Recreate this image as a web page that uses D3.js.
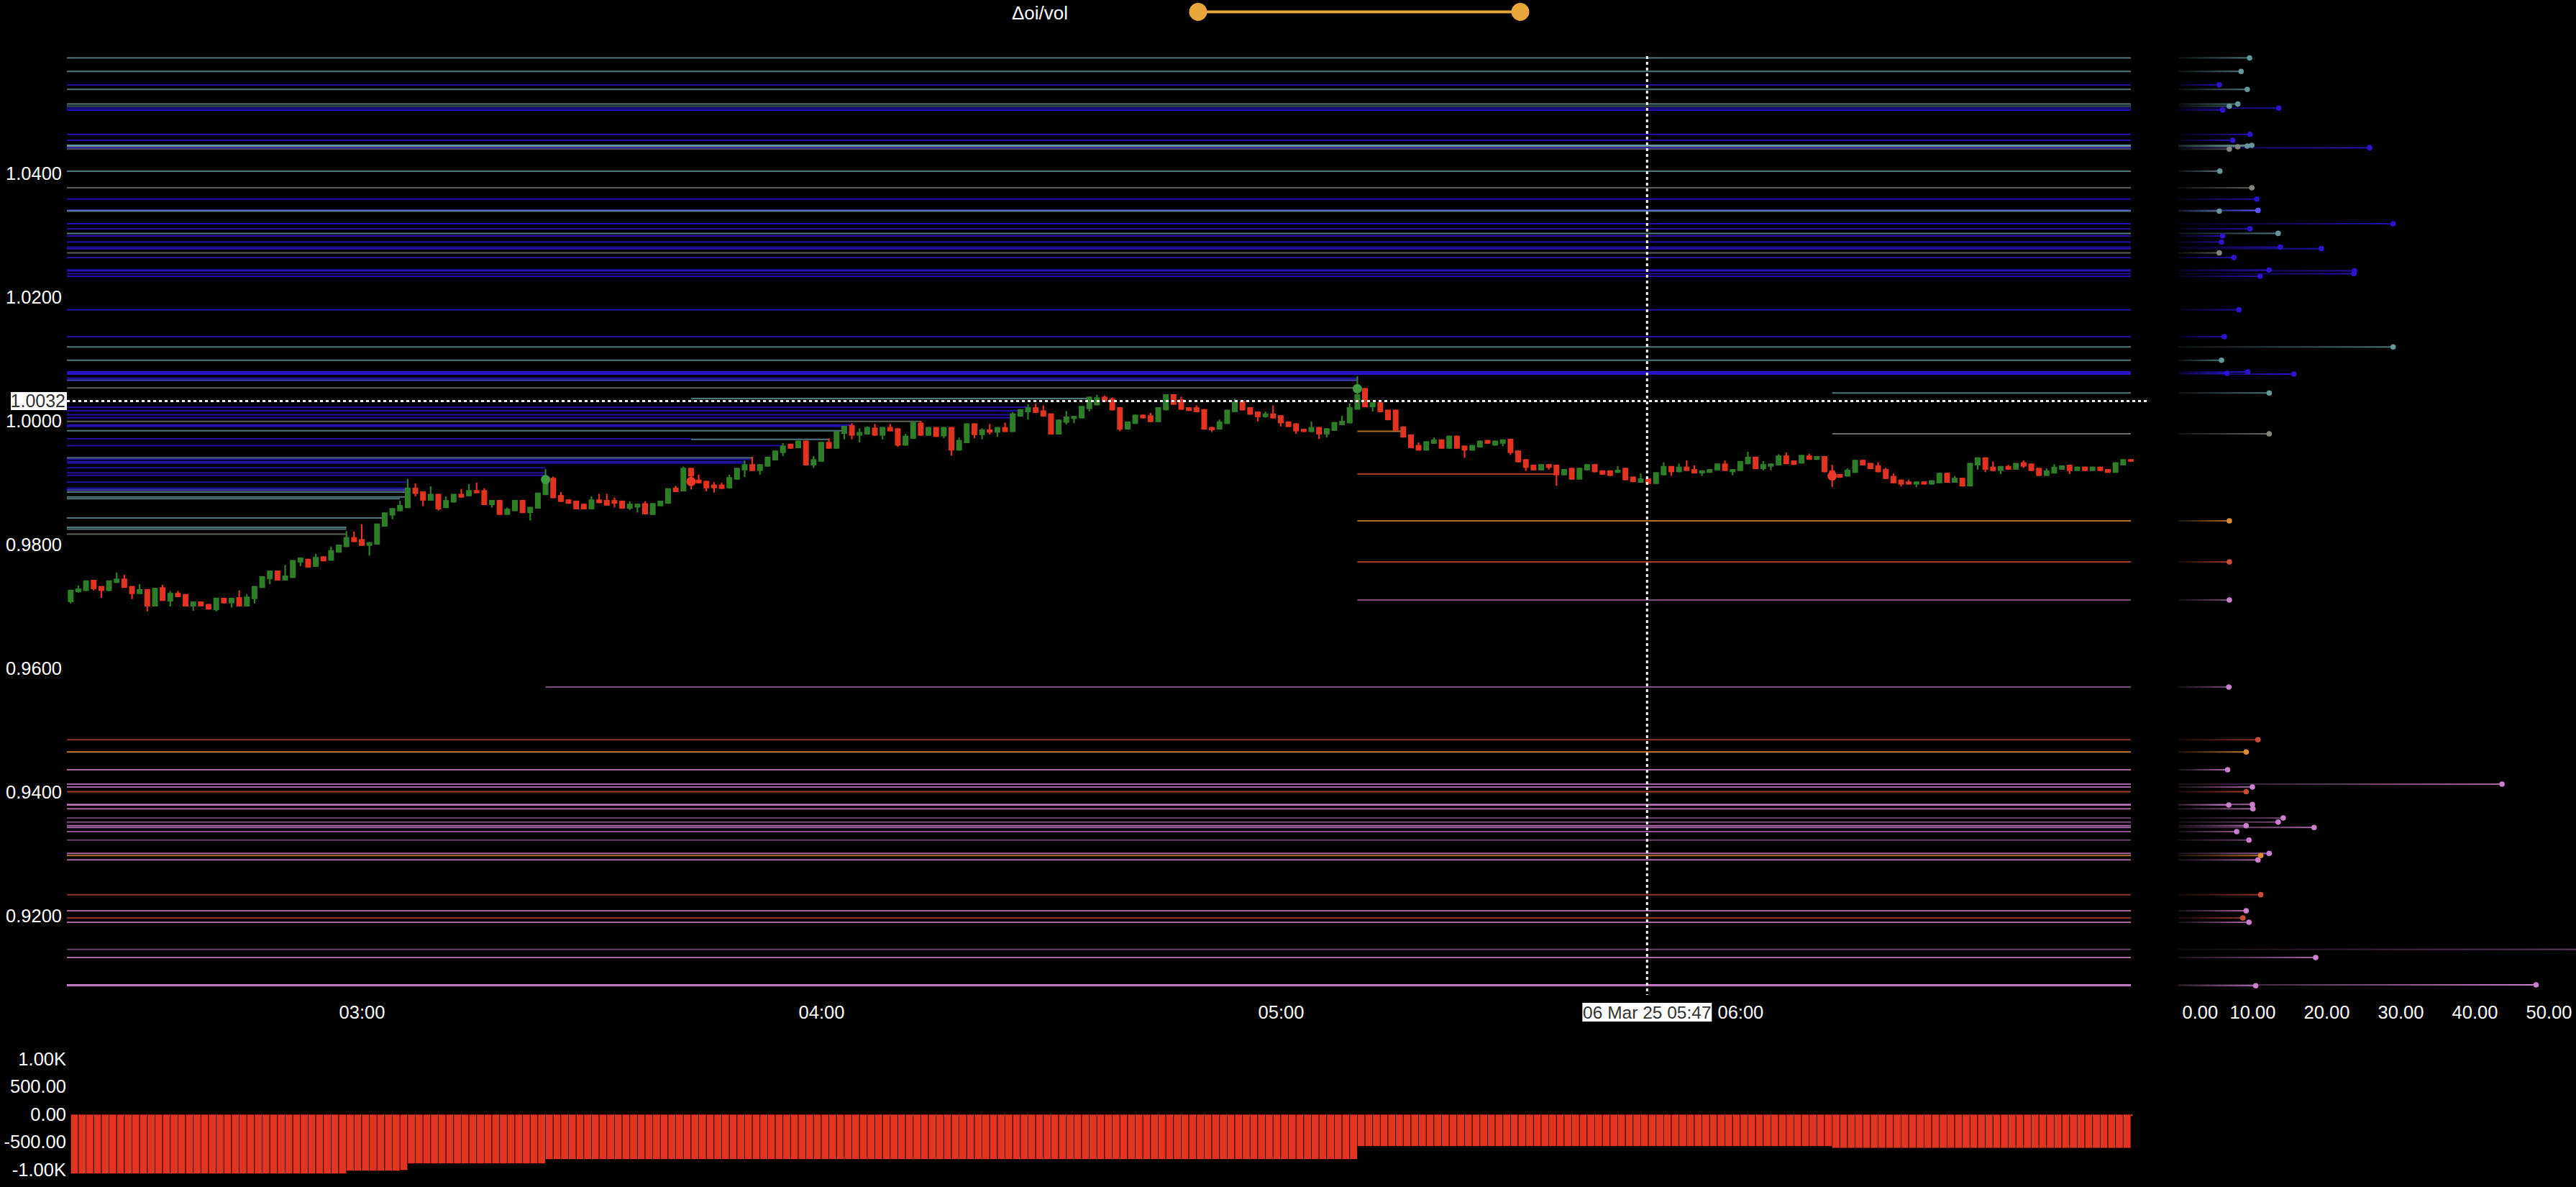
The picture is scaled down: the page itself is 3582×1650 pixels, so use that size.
<!DOCTYPE html>
<html><head><meta charset="utf-8">
<script src="https://cdn.jsdelivr.net/npm/d3@7"></script>
<style>html,body{margin:0;padding:0;background:#000;overflow:hidden}svg{display:block}</style>
</head><body>
<svg id="chart" width="3582" height="1650"></svg>
<script>
// ---------------- DATA ----------------
const DAY = "2025-03-06";
const firstCandle = "02:22";
// 1-minute candles, prices in 1e-4 units
const candleOpen = [
9707,9723,9725,9743,9733,9725,9738,9745,9733,9720,
9728,9700,9731,9708,9722,9720,9700,9708,9704,9694,
9714,9705,9715,9700,9712,9730,9744,9758,9742,9746,
9771,9777,9764,9781,9774,9787,9796,9812,9809,9798,
9800,9829,9847,9854,9859,9892,9886,9871,9882,9859,
9868,9882,9878,9888,9888,9864,9872,9848,9854,9872,
9851,9858,9880,9908,9880,9873,9871,9866,9857,9873,
9872,9872,9871,9858,9860,9867,9848,9862,9866,9892,
9886,9924,9905,9903,9897,9897,9891,9905,9920,9930,
9919,9926,9936,9948,9963,9956,9968,9928,9934,9966,
9955,9979,9993,9976,9978,9989,9976,9990,9988,9960,
9971,9997,9976,9990,9975,9990,9952,9964,9996,9977,
9986,9981,9990,9982,10007,10014,10022,10017,10012,9978,
9997,10003,10004,10019,10025,10039,10036,10022,9986,9995,
10010,10009,9998,10017,10043,10035,10022,10022,10019,9990,
9986,9995,10014,10032,10022,10015,10006,10012,10009,9999,
9996,9987,9982,9990,9978,9984,9993,9996,10018,10053,
10022,10030,10018,10018,9991,9978,9961,9952,9963,9970,
9955,9976,9960,9952,9957,9969,9960,9963,9971,9952,
9938,9929,9920,9930,9929,9912,9924,9905,9920,9930,
9920,9920,9916,9924,9910,9900,9907,9898,9912,9927,
9917,9926,9922,9915,9916,9920,9931,9917,9919,9930,
9942,9922,9926,9928,9944,9936,9931,9944,9937,9943,
9920,9914,9910,9916,9937,9932,9928,9922,9911,9905,
9902,9897,9902,9897,9899,9916,9900,9908,9894,9928,
9941,9926,9919,9927,9921,9933,9931,9924,9911,9915,
9921,9929,9919,9926,9919,9926,9922,9916,9928,9938];
const candleHigh = [
9727,9734,9742,9743,9733,9742,9755,9751,9733,9736,
9728,9730,9735,9725,9725,9720,9708,9708,9704,9714,
9714,9714,9726,9720,9733,9749,9758,9758,9767,9775,
9779,9777,9785,9781,9797,9800,9822,9821,9833,9804,
9834,9852,9859,9871,9906,9899,9886,9894,9882,9878,
9882,9890,9898,9900,9891,9872,9872,9860,9872,9872,
9861,9884,9922,9910,9885,9873,9871,9866,9878,9882,
9882,9876,9871,9870,9866,9870,9867,9871,9891,9895,
9926,9924,9913,9903,9901,9900,9913,9924,9936,9942,
9930,9942,9952,9964,9963,9968,9968,9943,9966,9972,
9983,9992,9996,9988,9991,9995,9990,9995,9988,9979,
9998,10000,9990,9990,9990,9990,9973,9996,9996,9988,
9995,9990,9997,10014,10019,10027,10028,10025,10012,10002,
10016,10008,10024,10039,10042,10041,10038,10022,9999,10010,
10010,10013,10022,10043,10043,10039,10022,10025,10019,9990,
10002,10018,10036,10032,10022,10015,10015,10025,10009,9999,
9996,9987,9999,9990,9988,9998,10008,10028,10072,10053,
10030,10030,10018,10018,9991,9978,9965,9967,9973,9970,
9976,9976,9960,9961,9968,9969,9968,9970,9971,9952,
9938,9929,9930,9930,9929,9922,9924,9924,9930,9930,
9920,9920,9927,9924,9910,9915,9907,9917,9933,9927,
9931,9936,9928,9920,9922,9931,9936,9922,9935,9950,
9942,9935,9931,9946,9949,9936,9945,9947,9943,9943,
9929,9914,9923,9937,9937,9932,9933,9924,9915,9905,
9905,9902,9902,9904,9916,9916,9911,9908,9932,9941,
9941,9934,9927,9929,9932,9936,9931,9924,9923,9930,
9928,9929,9926,9926,9926,9926,9922,9933,9938,9938];
const candleLow = [
9705,9722,9725,9726,9714,9725,9738,9730,9712,9720,
9692,9700,9709,9700,9715,9700,9693,9700,9695,9692,
9705,9698,9700,9700,9705,9730,9736,9742,9742,9746,
9765,9763,9764,9773,9774,9787,9796,9804,9798,9782,
9800,9829,9841,9854,9859,9878,9862,9871,9855,9859,
9868,9876,9878,9883,9864,9860,9848,9848,9854,9851,
9839,9858,9880,9875,9869,9866,9857,9857,9857,9867,
9863,9860,9858,9856,9852,9849,9848,9862,9866,9885,
9886,9889,9899,9886,9884,9890,9891,9905,9909,9919,
9913,9926,9936,9943,9955,9956,9928,9924,9934,9955,
9955,9970,9970,9965,9978,9976,9970,9983,9958,9960,
9971,9976,9976,9974,9972,9944,9952,9964,9972,9970,
9978,9974,9982,9982,10007,10002,10013,10007,9978,9978,
9994,9996,10004,10015,10025,10031,10017,9983,9986,9995,
10004,9998,9998,10017,10026,10018,10016,10014,9986,9982,
9986,9995,10014,10017,10010,9999,10005,10004,9991,9990,
9979,9982,9982,9971,9973,9984,9993,9996,10018,10022,
10015,10014,10001,9984,9973,9956,9952,9952,9963,9955,
9955,9955,9940,9952,9957,9963,9960,9959,9945,9933,
9919,9920,9920,9921,9895,9912,9905,9905,9920,9917,
9913,9911,9916,9904,9901,9900,9898,9898,9912,9911,
9917,9919,9915,9911,9916,9920,9919,9912,9919,9930,
9922,9920,9920,9928,9930,9929,9931,9937,9937,9917,
9893,9908,9910,9916,9928,9922,9917,9906,9899,9894,
9897,9893,9897,9897,9899,9900,9900,9894,9894,9921,
9917,9919,9914,9921,9921,9924,9919,9911,9911,9915,
9921,9914,9919,9919,9919,9919,9916,9916,9928,9934];
const candleClose = [
9727,9729,9742,9728,9725,9742,9745,9730,9720,9728,
9700,9730,9709,9722,9715,9700,9708,9700,9695,9714,
9705,9714,9700,9716,9733,9749,9758,9742,9750,9775,
9779,9763,9780,9773,9791,9800,9812,9804,9798,9804,
9834,9852,9859,9864,9892,9882,9871,9882,9857,9872,
9882,9876,9888,9883,9864,9872,9848,9858,9872,9851,
9861,9884,9899,9875,9869,9866,9857,9857,9873,9867,
9863,9866,9858,9866,9866,9849,9867,9871,9891,9885,
9924,9910,9899,9891,9891,9890,9909,9924,9930,9919,
9930,9942,9952,9960,9955,9968,9928,9938,9966,9955,
9983,9992,9976,9982,9990,9976,9990,9983,9960,9976,
9998,9976,9990,9974,9990,9952,9969,9996,9977,9986,
9981,9990,9982,10012,10019,10022,10013,10007,9978,10002,
10007,10008,10024,10039,10038,10031,10017,9986,9999,10010,
10004,9998,10022,10043,10026,10018,10016,10014,9986,9985,
9999,10018,10031,10017,10010,10006,10012,10004,9996,9990,
9983,9982,9990,9978,9988,9998,10000,10022,10043,10022,
10030,10014,10001,9984,9973,9956,9952,9967,9970,9955,
9976,9955,9952,9961,9968,9963,9968,9970,9948,9933,
9924,9920,9930,9924,9912,9922,9905,9924,9930,9917,
9913,9911,9921,9904,9901,9907,9898,9917,9927,9917,
9926,9919,9915,9920,9922,9931,9919,9922,9935,9942,
9922,9930,9931,9944,9930,9929,9945,9937,9943,9917,
9905,9908,9921,9937,9928,9922,9917,9906,9899,9897,
9897,9902,9897,9904,9916,9900,9908,9894,9932,9941,
9921,9919,9927,9921,9932,9926,9919,9911,9920,9926,
9928,9919,9926,9919,9926,9919,9916,9933,9938,9934];

// Markers on candles
const markerTime  = ["03:24", "03:43", "05:10", "06:12"];
const markerPrice = [0.9905, 0.9902, 1.0052, 0.9911];
const markerSide  = ["up", "down", "up", "down"];

// Price levels (horizontal lines) and their Δoi/vol ratio (right panel)
const levelPrice = [
1.05867,1.05648,1.05431,1.05357,1.05121,1.05087,1.05055,1.05024,1.04630,1.04535,
1.04454,1.04442,1.04430,1.04414,1.04392,1.04036,1.03767,1.03584,1.03401,1.03390,
1.03186,1.03105,1.03030,1.02988,1.02890,1.02807,1.02783,1.02715,1.02640,1.02438,
1.02425,1.02378,1.02337,1.01795,1.01360,1.01194,1.00979,1.00790,1.00767,1.00756,
1.00690,1.00656,1.00531,1.00451,0.99790,1.00360,1.00220,1.00160,1.00100,1.00050,
0.99990,0.99930,0.99910,0.99840,0.99710,0.99700,0.99600,0.99400,0.99380,0.99340,
0.99320,0.99240,0.99160,0.99120,0.99010,0.98910,0.98880,0.98850,0.98770,0.98740,
0.98430,0.98280,0.98250,0.98170,0.99140,0.99830,0.98384,0.97720,0.97105,0.95698,
0.94845,0.94648,0.94360,0.94128,0.94081,0.94006,0.93790,0.93800,0.93729,0.93581,
0.93515,0.93457,0.93428,0.93360,0.93224,0.93008,0.92973,0.92903,0.92341,0.92081,
0.91965,0.91895,0.91457,0.91326,0.90884,0.90870];
const levelKind = [
"t","t","b","t","t","t","b","b","b","b",
"t","t","g","b","g","t","g","b","l","t",
"b","b","t","b","b","b","b","g","b","b",
"b","b","b","b","b","t","t","b","b","b",
"b","l","g","t","g","t","b","b","b","b",
"g","b","b","t","b","t","b","t","b","b",
"b","b","b","b","b","b","l","t","t","t",
"t","t","t","g","r","o","o","r","p","p",
"r","o","p","p","p","r","p","p","p","p",
"p","p","p","p","p","p","o","p","r","p",
"r","p","p","p","p","p"];
const levelFrom = [
"02:21","02:21","02:21","02:21","02:21","02:21","02:21","02:21","02:21","02:21",
"02:21","02:21","02:21","02:21","02:21","02:21","02:21","02:21","02:21","02:21",
"02:21","02:21","02:21","02:21","02:21","02:21","02:21","02:21","02:21","02:21",
"02:21","02:21","02:21","02:21","02:21","02:21","02:21","02:21","02:21","02:21",
"02:21","02:21","02:21","06:12","06:12","03:43","02:21","02:21","02:21","02:21",
"02:21","02:21","02:21","02:21","02:21","03:43","02:21","02:21","02:21","02:21",
"02:21","02:21","02:21","02:21","02:21","02:21","02:21","02:21","02:21","02:21",
"02:21","02:21","02:21","02:21","05:10","05:10","05:10","05:10","05:10","03:24",
"02:21","02:21","02:21","02:21","02:21","02:21","02:21","02:21","02:21","02:21",
"02:21","02:21","02:21","02:21","02:21","02:21","02:21","02:21","02:21","02:21",
"02:21","02:21","02:21","02:21","02:21","02:21"];
const levelTo = [
"06:51","06:51","06:51","06:51","06:51","06:51","06:51","06:51","06:51","06:51",
"06:51","06:51","06:51","06:51","06:51","06:51","06:51","06:51","06:51","06:51",
"06:51","06:51","06:51","06:51","06:51","06:51","06:51","06:51","06:51","06:51",
"06:51","06:51","06:51","06:51","06:51","06:51","06:51","06:51","06:51","06:51",
"05:10","05:10","05:10","06:51","06:51","04:35","04:27","04:26","04:25","04:25",
"04:13","04:04","04:03","04:03","03:43","04:01","03:55","03:51","03:51","03:50",
"03:50","03:24","03:24","03:24","03:06","03:06","03:06","03:06","03:06","03:05",
"03:03","02:58","02:58","02:58","05:36","05:16","06:51","06:51","06:51","06:51",
"06:51","06:51","06:51","06:51","06:51","06:51","06:51","06:51","06:51","06:51",
"06:51","06:51","06:51","06:51","06:51","06:51","06:51","06:51","06:51","06:51",
"06:51","06:51","06:51","06:51","06:51","06:51"];
const levelWeight = [
0.8,0.8,0.8,0.8,0.8,0.6,0.8,0.9,0.8,0.8,
1.0,0.8,0.6,0.9,0.6,0.8,0.7,0.8,1.0,0.7,
0.8,0.8,0.8,0.8,0.8,0.8,0.8,0.7,0.8,0.8,
0.8,0.8,0.8,0.8,0.8,0.8,0.8,1.0,0.9,0.9,
0.9,0.8,0.7,0.8,0.8,0.8,0.8,0.8,0.8,0.8,
0.7,0.8,0.8,0.8,0.8,0.8,0.8,0.8,0.8,0.8,
0.8,0.8,0.8,0.8,0.8,0.8,0.8,0.8,0.8,0.8,
0.8,0.8,0.8,0.7,0.8,0.8,0.8,0.8,0.6,0.6,
0.7,0.9,0.8,0.8,0.8,0.8,0.8,0.8,0.8,0.5,
0.6,0.8,0.8,0.7,0.5,0.8,0.8,0.8,0.7,0.8,
0.7,0.8,0.5,0.8,1.0,0.8];
// Δoi/vol values; null = level already crossed (no bar)
const levelRatio = [
9.62,8.48,5.53,9.31,8.03,6.89,13.56,5.98,9.69,7.35,
9.92,9.31,8.03,25.82,6.89,5.60,9.92,10.60,10.75,5.53,
29.0,9.69,13.48,5.98,5.83,13.78,19.31,5.53,7.50,12.27,
23.78,23.70,11.06,8.18,6.21,29.0,5.83,9.39,6.59,15.60,
null,null,null,12.27,12.27,null,null,null,null,null,
null,null,null,null,null,null,null,null,null,null,
null,null,null,null,null,null,null,null,null,null,
null,null,null,null,null,null,6.89,6.89,6.89,6.82,
10.75,9.16,6.66,43.7,10.0,9.16,6.82,10.0,10.07,14.16,
13.48,9.16,18.33,7.88,9.54,12.27,11.13,10.75,11.13,9.16,
8.71,9.54,60,18.55,48.3,10.45];

// Δoi bars: step values starting at given minute
const oiChangeTime  = ["02:22","02:58","03:05","03:06","03:24","05:10","06:12","06:51"];
const oiChangeValue = [-1074, -1022, -1010, -888, -814, -576, -610, -30];

const priceTicks = [0.92, 0.94, 0.96, 0.98, 1.00, 1.02, 1.04];
const timeTicks  = ["03:00", "04:00", "05:00", "06:00"];
const ratioTicks = [0, 10, 20, 30, 40, 50];
const oiTicks    = [-1000, -500, 0, 500, 1000];
const cursorPrice = 1.0032;
const cursorTime  = "05:47:50";
const sliderLabel = "Δoi/vol";

// ---------------- RENDER ----------------
const parseT = s => new Date(`${DAY}T${s.length === 5 ? s + ":00" : s}`);
const t0 = parseT(firstCandle).getTime();
const candles = candleOpen.map((o, i) => ({
  t: new Date(t0 + i * 60000),
  o: o / 1e4, h: candleHigh[i] / 1e4, l: candleLow[i] / 1e4, c: candleClose[i] / 1e4
}));

const FONT = "'Liberation Sans', Arial, Helvetica, sans-serif";
const FS = 25.5;
const svg = d3.select("#chart").style("background", "#000").attr("font-family", FONT);
svg.append("rect").attr("width", 3582).attr("height", 1650).attr("fill", "#000");

const x = d3.scaleTime().domain([parseT("02:21:30"), parseT("06:51:00")]).range([93, 2963]);
const y = d3.scaleLinear().domain([0.908, 1.060]).range([1376.2, 69]);
const rx = d3.scaleLinear().domain([0, 50]).range([3029, 3544]);
const yb = d3.scaleLinear().domain([-1100, 1200]).range([1633.7, 1456.6]);

const kindColor = { b: "#2a14d0", l: "#5a5aff", t: "#64959a", g: "#80887c", p: "#cc7fcc", o: "#dc8c2c", r: "#cc4a38" };

const defs = svg.append("defs");
Object.entries(kindColor).forEach(([k, c]) => {
  const g = defs.append("linearGradient").attr("id", "grad-" + k).attr("x1", 0).attr("x2", 1).attr("y1", 0).attr("y2", 0);
  g.append("stop").attr("offset", 0).attr("stop-color", c).attr("stop-opacity", 0.15);
  g.append("stop").attr("offset", 1).attr("stop-color", c).attr("stop-opacity", 1);
});
defs.append("clipPath").attr("id", "panelClip").append("rect").attr("x", 3029).attr("y", 0).attr("width", 553).attr("height", 1390);

const levels = levelPrice.map((p, i) => ({ p, k: levelKind[i], f: levelFrom[i], to: levelTo[i], w: levelWeight[i], r: levelRatio[i] }));

// level lines in main chart
const [xmin, xmax] = x.range();
svg.append("g").selectAll("line").data(levels).join("line")
  .attr("x1", d => Math.max(xmin, x(parseT(d.f))))
  .attr("x2", d => Math.min(xmax, x(parseT(d.to))))
  .attr("y1", d => y(d.p)).attr("y2", d => y(d.p))
  .attr("stroke", d => kindColor[d.k]).attr("stroke-opacity", d => d.w)
  .attr("stroke-width", 2);

// candles
const UP = "#2e7d27", DN = "#e2331f";
const cg = svg.append("g");
cg.selectAll("line").data(candles).join("line")
  .attr("x1", d => x(d.t)).attr("x2", d => x(d.t))
  .attr("y1", d => y(d.h)).attr("y2", d => y(d.l))
  .attr("stroke", d => d.c >= d.o ? UP : DN).attr("stroke-width", 2.2);
cg.selectAll("rect").data(candles).join("rect")
  .attr("x", d => x(d.t) - 4).attr("width", 8)
  .attr("y", d => y(Math.max(d.o, d.c)))
  .attr("height", d => Math.max(2, Math.abs(y(d.o) - y(d.c))))
  .attr("fill", d => d.c >= d.o ? UP : DN);

// markers
svg.append("g").selectAll("circle").data(markerTime.map((t, i) => ({ t: parseT(t), p: markerPrice[i], s: markerSide[i] })))
  .join("circle").attr("cx", d => x(d.t)).attr("cy", d => y(d.p)).attr("r", 6.5)
  .attr("fill", d => d.s === "up" ? "#3f9a3f" : "#e8392a");

// y axis
const ya = svg.append("g").attr("transform", "translate(93,0)")
  .call(d3.axisLeft(y).tickValues(priceTicks).tickFormat(d3.format(".4f")).tickSize(0).tickPadding(7));
ya.select(".domain").remove();
ya.selectAll("text").attr("fill", "#fff").attr("font-size", FS).attr("font-family", FONT);

// x axis
const xa = svg.append("g").attr("transform", "translate(0,1394)")
  .call(d3.axisBottom(x).tickValues(timeTicks.map(parseT)).tickFormat(d3.timeFormat("%H:%M")).tickSize(0).tickPadding(4));
xa.select(".domain").remove();
xa.selectAll("text").attr("fill", "#fff").attr("font-size", FS).attr("font-family", FONT);

// right panel
const rp = svg.append("g").attr("clip-path", "url(#panelClip)");
const act = levels.filter(d => d.r != null);
rp.selectAll("rect").data(act).join("rect")
  .attr("x", rx(0)).attr("y", d => y(d.p) - 1).attr("height", 2)
  .attr("width", d => rx(d.r) - rx(0))
  .attr("fill", d => `url(#grad-${d.k})`).attr("opacity", d => d.w);
rp.selectAll("circle").data(act).join("circle")
  .attr("cx", d => rx(d.r)).attr("cy", d => y(d.p)).attr("r", 3.8)
  .attr("fill", d => kindColor[d.k]);
const ra = svg.append("g").attr("transform", "translate(0,1394)")
  .call(d3.axisBottom(rx).tickValues(ratioTicks).tickFormat(d3.format(".2f")).tickSize(0).tickPadding(4));
ra.select(".domain").remove();
ra.selectAll("text").attr("fill", "#fff").attr("font-size", FS).attr("font-family", FONT);
// first label kept inside the panel
ra.selectAll(".tick").filter(d => d === 0).select("text").attr("text-anchor", "start").attr("x", 5);

// crosshair
const cx = x(parseT(cursorTime));
svg.append("line").attr("x1", 93).attr("x2", 2985).attr("y1", y(cursorPrice)).attr("y2", y(cursorPrice))
  .attr("stroke", "#fff").attr("stroke-width", 3).attr("stroke-dasharray", "4,4");
svg.append("line").attr("x1", cx).attr("x2", cx).attr("y1", 78).attr("y2", 1383)
  .attr("stroke", "#fff").attr("stroke-width", 3).attr("stroke-dasharray", "4,4");
svg.append("rect").attr("x", 15).attr("y", y(cursorPrice) - 12.5).attr("width", 78).attr("height", 25).attr("fill", "#fff");
svg.append("text").attr("x", 91).attr("y", y(cursorPrice)).attr("dy", "0.35em").attr("text-anchor", "end")
  .attr("font-size", 25).attr("fill", "#333").text(d3.format(".4f")(cursorPrice));
svg.append("rect").attr("x", cx - 90).attr("y", 1394).attr("width", 180).attr("height", 26).attr("fill", "#fff");
svg.append("text").attr("x", cx).attr("y", 1407).attr("dy", "0.35em").attr("text-anchor", "middle")
  .attr("font-size", 24.5).attr("fill", "#333").text(d3.timeFormat("%d %b %y %H:%M")(parseT(cursorTime)));

// bottom Δoi bars (each bar spans from its candle to the next one)
const oiSteps = oiChangeTime.map((t, i) => ({ t: parseT(t), v: oiChangeValue[i] }));
const oiAt = t => { let v = oiSteps[0].v; for (const s of oiSteps) if (s.t <= t) v = s.v; return v; };
const bw = x(new Date(t0 + 60000)) - x(new Date(t0));
const lastT = candles[candles.length - 1].t.getTime();
svg.append("g").selectAll("rect").data(candles).join("rect")
  .attr("x", d => x(d.t)).attr("width", d => d.t.getTime() === lastT ? 2.5 : bw)
  .attr("y", d => Math.min(yb(0), yb(oiAt(d.t))))
  .attr("height", d => Math.abs(yb(oiAt(d.t)) - yb(0)))
  .attr("fill", "#e2341f").attr("stroke", "#1a0500").attr("stroke-width", d => d.t.getTime() === lastT ? 0 : 0.8);
const fmtOi = v => Math.abs(v) >= 1000 ? (v / 1000).toFixed(2) + "K" : v.toFixed(2);
const ba = svg.append("g").attr("transform", "translate(98,0)")
  .call(d3.axisLeft(yb).tickValues(oiTicks).tickFormat(fmtOi).tickSize(0).tickPadding(6));
ba.select(".domain").remove();
ba.selectAll("text").attr("fill", "#fff").attr("font-size", FS).attr("font-family", FONT);

// top slider
svg.append("text").attr("x", 1446).attr("y", 18).attr("dy", "0.35em").attr("text-anchor", "middle")
  .attr("font-size", 26).attr("fill", "#fff").text(sliderLabel);
svg.append("line").attr("x1", 1666).attr("x2", 2114).attr("y1", 16.5).attr("y2", 16.5)
  .attr("stroke", "#e8a53a").attr("stroke-width", 4);
svg.selectAll("circle.h").data([1666, 2114]).join("circle").attr("class", "h")
  .attr("cx", d => d).attr("cy", 16.5).attr("r", 12.5).attr("fill", "#e8a53a");
</script>
</body></html>
